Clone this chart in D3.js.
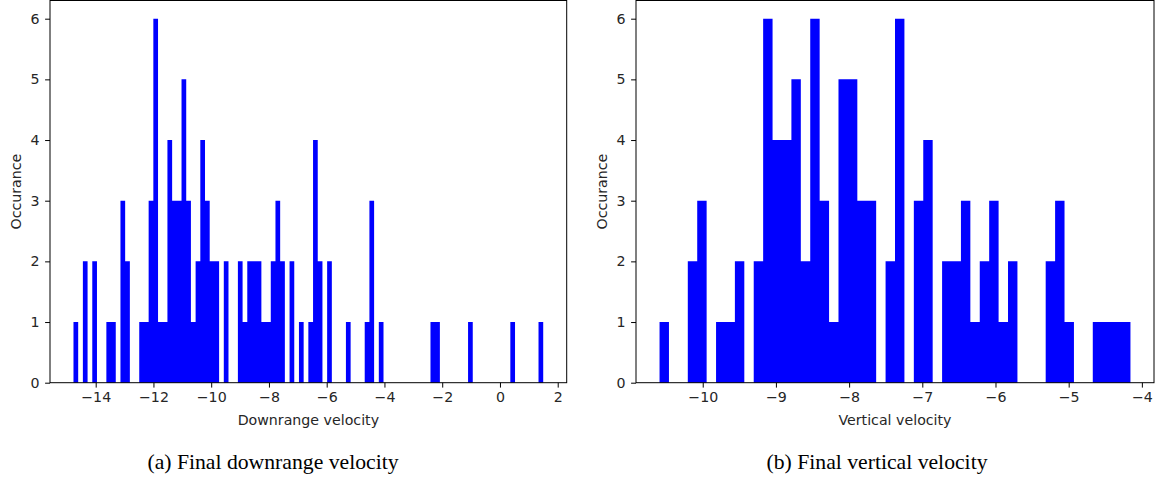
<!DOCTYPE html>
<html>
<head>
<meta charset="utf-8">
<script src="https://cdn.jsdelivr.net/npm/d3@7"></script>
<style>
    body { margin: 0; background: #ffffff; }
    svg { display: block; }
    .tick-label, .axis-label { font-family: "DejaVu Sans", sans-serif; font-size: 14.2px; fill: #262626; }
    .caption { font-family: "Liberation Serif", "Times New Roman", serif; font-size: 21.7px; fill: #000; }
</style>
</head>
<body>
<svg id="figure" width="1156" height="477"></svg>
<script>
// Histogram (a): downrange velocity, 100 bins
var downrangeStart = -14.769;
var downrangeBinWidth = 0.16267;
var downrangeCounts = [
    1, 0, 2, 0, 2, 0, 0, 1, 1, 0,
    3, 2, 0, 0, 1, 1, 3, 6, 1, 1,
    4, 3, 3, 5, 3, 1, 2, 4, 3, 2,
    2, 0, 2, 0, 0, 2, 1, 2, 2, 2,
    1, 1, 2, 3, 2, 0, 2, 0, 1, 0,
    1, 4, 2, 0, 2, 0, 0, 0, 1, 0,
    0, 0, 1, 3, 0, 1, 0, 0, 0, 0,
    0, 0, 0, 0, 0, 0, 1, 1, 0, 0,
    0, 0, 0, 0, 1, 0, 0, 0, 0, 0,
    0, 0, 0, 1, 0, 0, 0, 0, 0, 1
];
var downrangeTicks = [-14, -12, -10, -8, -6, -4, -2, 0, 2];

// Histogram (b): vertical velocity, 50 bins
var verticalStart = -10.590;
var verticalBinWidth = 0.12868;
var verticalCounts = [
    1, 0, 0, 2, 3, 0, 1, 1, 2, 0,
    2, 6, 4, 4, 5, 2, 6, 3, 1, 5,
    5, 3, 3, 0, 2, 6, 0, 3, 4, 0,
    2, 2, 3, 1, 2, 3, 1, 2, 0, 0,
    0, 2, 3, 1, 0, 0, 1, 1, 1, 1
];
var verticalTicks = [-10, -9, -8, -7, -6, -5, -4];

var countTicks = [0, 1, 2, 3, 4, 5, 6];

var svg = d3.select("#figure");

function histogram(panel) {
    /*
    Draws one matplotlib-style histogram panel
    */
    var box = panel.box;
    var g = svg.append("g");

    var nBins = panel.counts.length;
    var dataMin = panel.start;
    var dataMax = panel.start + nBins * panel.width;
    var margin = (dataMax - dataMin) * 0.05;

    var xScale = d3.scaleLinear()
        .domain([dataMin - margin, dataMax + margin])
        .range([box.left, box.right]);

    var yScale = d3.scaleLinear()
        .domain([0, 6.3])
        .range([box.bottom, box.top]);

    // Each bin becomes two step points so the bars merge into one shape (no seams)
    var steps = [];
    panel.counts.forEach(function(c, i) {
        steps.push({ x: panel.start + i * panel.width, count: c });
        steps.push({ x: panel.start + (i + 1) * panel.width, count: c });
    });

    var area = d3.area()
        .x(function(d) { return xScale(d.x); })
        .y0(yScale(0))
        .y1(function(d) { return yScale(d.count); });

    g.append("path")
        .datum(steps)
        .attr("class", "bars")
        .attr("d", area)
        .attr("fill", "#0000ff");

    // x axis
    var xAxis = g.append("g")
        .attr("transform", `translate(0, ${box.bottom})`)
        .call(d3.axisBottom(xScale).tickValues(panel.ticks).tickSize(4.9).tickPadding(4.5));
    xAxis.select(".domain").remove();
    xAxis.selectAll("line").attr("stroke", "#000").attr("stroke-width", 1);
    xAxis.selectAll("text").attr("class", "tick-label").attr("font-size", null).attr("font-family", null).attr("fill", null);

    // y axis
    var yAxis = g.append("g")
        .attr("transform", `translate(${box.left}, 0)`)
        .call(d3.axisLeft(yScale).tickValues(countTicks).tickFormat(d3.format("d")).tickSize(4.9).tickPadding(5.5));
    yAxis.select(".domain").remove();
    yAxis.selectAll("line").attr("stroke", "#000").attr("stroke-width", 1);
    yAxis.selectAll("text").attr("class", "tick-label").attr("font-size", null).attr("font-family", null).attr("fill", null);

    // Frame
    g.append("rect")
        .attr("x", box.left)
        .attr("y", box.top)
        .attr("width", box.right - box.left)
        .attr("height", box.bottom - box.top)
        .attr("fill", "none")
        .attr("stroke", "#000")
        .attr("stroke-width", 1);

    // Labels
    g.append("text")
        .attr("class", "axis-label")
        .attr("x", (box.left + box.right) / 2)
        .attr("y", 425)
        .attr("text-anchor", "middle")
        .text(panel.xLabel);

    g.append("text")
        .attr("class", "axis-label")
        .attr("transform", `translate(${box.left - 29}, ${(box.top + box.bottom) / 2}) rotate(-90)`)
        .attr("text-anchor", "middle")
        .text("Occurance");

    svg.append("text")
        .attr("class", "caption")
        .attr("x", panel.captionX)
        .attr("y", 469)
        .attr("text-anchor", "middle")
        .text(panel.caption);
}

histogram({
    box: { left: 50, right: 566.7, top: 0.5, bottom: 382.7 },
    start: downrangeStart,
    width: downrangeBinWidth,
    counts: downrangeCounts,
    ticks: downrangeTicks,
    xLabel: "Downrange velocity",
    caption: "(a) Final downrange velocity",
    captionX: 273
});

histogram({
    box: { left: 636, right: 1154, top: 0.5, bottom: 382.7 },
    start: verticalStart,
    width: verticalBinWidth,
    counts: verticalCounts,
    ticks: verticalTicks,
    xLabel: "Vertical velocity",
    caption: "(b) Final vertical velocity",
    captionX: 877
});
</script>
</body>
</html>
